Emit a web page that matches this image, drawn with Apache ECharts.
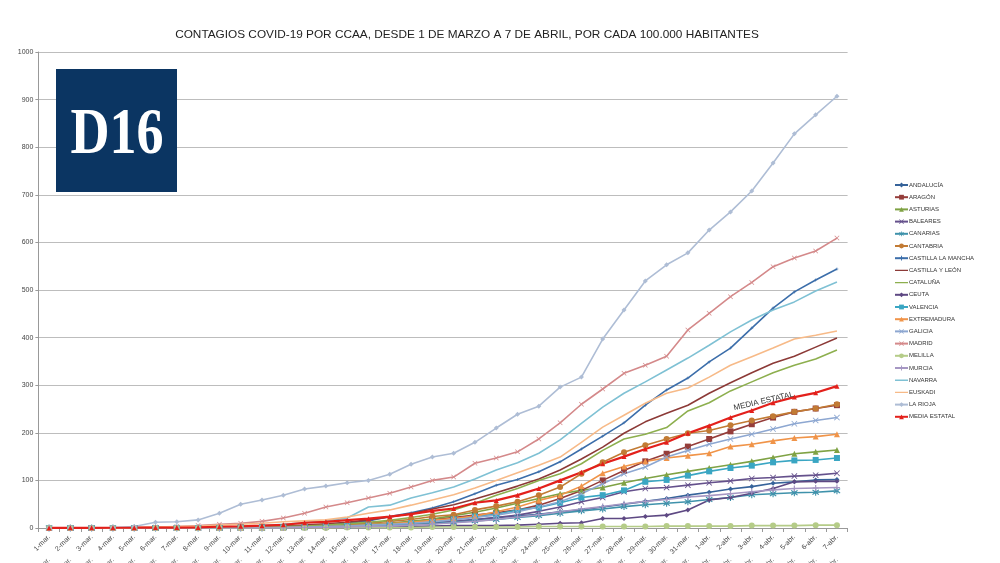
<!DOCTYPE html>
<html>
<head>
<meta charset="utf-8">
<script src="https://cdn.jsdelivr.net/npm/echarts@6/dist/echarts.min.js"></script>
<style>
html,body{margin:0;padding:0;background:#fff;}
#chart{width:1000px;height:563px;}
</style>
</head>
<body>
<div id="chart"></div>
<script>
var dias = ['1-mar.','2-mar.','3-mar.','4-mar.','5-mar.','6-mar.','7-mar.','8-mar.','9-mar.','10-mar.',
	'11-mar.','12-mar.','13-mar.','14-mar.','15-mar.','16-mar.','17-mar.','18-mar.','19-mar.','20-mar.',
	'21-mar.','22-mar.','23-mar.','24-mar.','25-mar.','26-mar.','27-mar.','28-mar.','29-mar.','30-mar.',
	'31-mar.','1-abr.','2-abr.','3-abr.','4-abr.','5-abr.','6-abr.','7-abr.'];
var yTicks = [0,100,200,300,400,500,600,700,800,900,1000];

var andalucia = [0,0,0,0,0,0,0,0,0,0,1,1,1,2,3,4,5,7,10,13,18,22,25,29,34,38,44,50,56,62,69,75,82,87,94,97,101,102];
var aragon = [0,0,0,0,0,0,0,0,0,1,1,2,3,4,5,6,10,13,18,22,27,32,38,48,62,79,100,121,140,156,171,187,203,218,232,244,251,258];
var asturias = [0,0,0,0,0,0,0,0,0,1,1,2,3,4,5,7,10,14,19,26,33,42,52,62,72,79,85,95,104,112,119,126,133,140,148,156,160,164];
var baleares = [0,0,0,0,0,0,0,0,0,0,1,1,1,2,3,4,6,9,12,15,17,22,27,35,44,55,64,76,83,85,90,95,99,104,106,109,111,115];
var canarias = [0,0,0,0,0,0,0,0,0,0,0,1,1,2,3,4,5,7,9,12,15,18,22,26,31,36,40,45,49,52,55,60,64,70,72,74,75,78];
var cantabria = [0,0,0,0,0,0,0,0,1,2,2,3,4,6,8,10,14,18,24,28,38,46,55,69,86,114,138,159,174,187,199,205,216,226,235,244,251,260];
var castillaMancha = [0,0,0,0,0,0,0,0,1,1,2,3,4,6,10,15,24,32,42,55,72,90,102,118,139,166,193,221,258,290,315,349,378,420,462,496,521,544];
var castillaLeon = [0,0,0,0,0,0,0,0,1,2,3,4,6,9,12,17,23,30,40,49,61,74,88,103,122,145,170,199,223,241,258,283,305,326,346,361,380,399];
var cataluna = [0,0,0,0,0,0,0,0,1,1,2,3,4,6,9,12,16,22,29,38,52,69,83,100,114,135,163,187,197,211,246,263,288,307,326,342,355,374];
var ceuta = [0,0,0,0,0,0,0,0,0,0,0,0,0,1,1,1,2,3,4,5,5,5,6,8,10,11,20,20,24,27,38,59,64,73,83,97,98,98];
var valencia = [0,0,0,0,0,0,0,0,0,1,1,1,2,3,4,5,6,10,13,18,24,29,38,43,53,64,69,79,97,101,110,119,126,131,138,142,143,147];
var extremadura = [0,0,0,0,0,0,0,0,0,0,1,1,2,3,4,6,9,12,16,20,25,34,44,58,69,88,115,129,140,147,152,157,171,176,183,189,192,197];
var galicia = [0,0,0,0,0,0,0,0,0,0,1,1,2,3,4,6,8,10,13,17,22,27,34,44,55,72,93,114,128,149,163,176,187,197,208,219,226,232];
var madrid = [0,0,0,0,1,2,3,5,8,10,14,21,31,44,53,63,73,86,100,107,136,147,160,187,221,260,292,325,342,361,416,451,486,516,549,567,582,609];
var melilla = [0,0,0,0,0,0,0,0,0,0,0,0,0,0,1,1,1,1,2,2,2,2,2,3,3,3,3,3,3,4,4,4,4,5,5,5,6,6];
var murcia = [0,0,0,0,0,0,0,0,0,0,0,0,1,1,2,3,4,6,8,11,14,18,23,28,34,40,45,51,56,60,65,68,72,76,80,83,84,85];
var navarra = [0,0,0,0,0,0,0,1,2,3,5,8,11,15,21,44,48,63,74,86,103,122,137,157,185,220,254,283,307,332,357,384,412,437,458,475,498,517];
var euskadi = [0,0,0,0,1,2,3,4,6,8,10,13,15,17,23,31,38,48,59,70,84,100,116,132,149,180,212,237,262,283,294,317,342,360,378,397,405,414];
var laRioja = [0,0,0,1,3,12,13,17,31,50,59,69,82,88,95,100,113,134,149,157,180,210,239,256,296,317,397,458,519,553,578,626,664,708,767,828,868,907];
var media = [0.2,0.3,0.4,0.5,0.6,0.8,0.9,1.3,2.6,3.6,4.8,6.7,11,13,16.5,19.6,24,29,36,41,53,58,69,83,100,117,135,150,166,180,199,215,232,247,263,275,284,298];

// marcadores tipo excel
var symX = 'path://M0,1L1,0L5,4L9,0L10,1L6,5L10,9L9,10L5,6L1,10L0,9L4,5Z';
var symPlus = 'path://M4,0L6,0L6,4L10,4L10,6L6,6L6,10L4,10L4,6L0,6L0,4L4,4Z';
var symStar = 'path://M4.3,0L5.7,0L5.7,3.3L8.6,1.1L9.4,2.2L6.6,5L9.4,7.8L8.6,8.9L5.7,6.7L5.7,10L4.3,10L4.3,6.7L1.4,8.9L0.6,7.8L3.4,5L0.6,2.2L1.4,1.1L4.3,3.3Z';
// icono de leyenda solo linea (series sin marcador)
var iconLinea = 'path://M0,0L13,0L13,0.01L0,0.01ZM0,2.3L13,2.3L13,3.7L0,3.7ZM0,5.99L13,5.99L13,6L0,6Z';

function serie(name, data, color, symbol, size, width){
	return {
		name: name,
		type: 'line',
		data: data,
		symbol: symbol,
		symbolSize: size,
		showSymbol: symbol != 'none',
		animation: false,
		color: color,
		lineStyle: {width: width || 1.6, color: color},
		itemStyle: {color: color},
		emphasis: {disabled: true}
	};
}

// etiqueta sobre la linea de la media
var mediaData = media.map(function(v, i){
	if(i == 33){
		return {value: v, label: {show: true, formatter: 'MEDIA ESTATAL', position: 'top', rotate: 13,
			offset: [12, 5], fontSize: 8, color: '#333', fontFamily: 'Liberation Sans'}};
	}
	return v;
});

var series = [
	serie('ANDALUCÍA', andalucia, '#36639A', 'diamond', 5),
	serie('ARAGÓN', aragon, '#953D3A', 'rect', 6),
	serie('ASTURIAS', asturias, '#7FA244', 'triangle', 6),
	serie('BALEARES', baleares, '#65518C', symX, 6),
	serie('CANARIAS', canarias, '#3F92AB', symStar, 7),
	serie('CANTABRIA', cantabria, '#C27B34', 'circle', 6),
	serie('CASTILLA LA MANCHA', castillaMancha, '#3C6EAA', symPlus, 3),
	serie('CASTILLA Y LEÓN', castillaLeon, '#8C3A37', 'none', 0),
	serie('CATALUÑA', cataluna, '#8DAF4E', 'none', 0),
	serie('CEUTA', ceuta, '#5E4983', 'diamond', 5),
	serie('VALENCIA', valencia, '#3AA6C3', 'rect', 6),
	serie('EXTREMADURA', extremadura, '#F09449', 'triangle', 6),
	serie('GALICIA', galicia, '#8DA7D1', symX, 6),
	serie('MADRID', madrid, '#D4898A', symX, 5),
	serie('MELILLA', melilla, '#B5CC88', 'circle', 6),
	serie('MURCIA', murcia, '#A697C3', symPlus, 6),
	serie('NAVARRA', navarra, '#7FC1D4', 'none', 0),
	serie('EUSKADI', euskadi, '#F7BA88', 'none', 0),
	serie('LA RIOJA', laRioja, '#AEBDD5', 'diamond', 5),
	serie('MEDIA ESTATAL', mediaData, '#E3201B', 'triangle', 5, 2.2)
];

var chart = echarts.init(document.getElementById('chart'));
chart.setOption({
	animation: false,
	backgroundColor: '#fff',
	textStyle: {fontFamily: 'Liberation Sans'},
	title: {
		text: 'CONTAGIOS COVID-19 POR CCAA, DESDE 1 DE MARZO A 7 DE ABRIL, POR CADA 100.000 HABITANTES',
		left: 462, top: 24, textAlign: 'center',
		textStyle: {fontSize: 11.8, fontWeight: 'normal', color: '#222', fontFamily: 'Liberation Sans'}
	},
	legend: {
		orient: 'vertical',
		left: 889, top: 176,
		itemWidth: 13, itemHeight: 6, itemGap: 4.2,
		textStyle: {fontSize: 6, color: '#333', lineHeight: 8, padding: [0, 0, 0, -4]},
		data: series.map(function(s){
			return s.symbol == 'none' ? {name: s.name, icon: iconLinea} : s.name;
		})
	},
	grid: {left: 38.4, right: 152.4, top: 52, bottom: 35, outerBoundsMode: 'none', containLabel: false},
	xAxis: [{
		type: 'category',
		data: dias,
		boundaryGap: true,
		axisLine: {lineStyle: {color: '#999', width: 1}},
		axisTick: {show: true, lineStyle: {color: '#999'}, length: 4},
		axisLabel: {interval: 0, rotate: 45, fontSize: 7, color: '#444', margin: 8},
		splitLine: {show: false}
	}, {
		type: 'category',
		data: dias,
		position: 'bottom',
		offset: 27,
		axisLine: {show: false},
		axisTick: {show: false},
		axisLabel: {interval: 0, rotate: 45, fontSize: 7, color: '#666', margin: 4}
	}],
	yAxis: {
		type: 'value',
		min: yTicks[0], max: yTicks[yTicks.length - 1], interval: 100,
		axisLine: {show: true, lineStyle: {color: '#999'}},
		axisTick: {show: true, length: 3, lineStyle: {color: '#999'}},
		axisLabel: {fontSize: 7, color: '#444', margin: 5, formatter: function(v){ return String(v); }},
		splitLine: {lineStyle: {color: '#bdbdbd', width: 1}}
	},
	series: series,
	graphic: [
		{type: 'rect', left: 56, top: 69, shape: {width: 121, height: 123}, style: {fill: '#0B3562'}, z: 10},
		{type: 'text', x: 117, y: 136, scaleX: 0.82, z: 11,
			style: {text: 'D16', fill: '#fff', font: 'bold 66px "Liberation Serif"', textAlign: 'center', textVerticalAlign: 'middle'}}
	]
});
</script>
</body>
</html>
